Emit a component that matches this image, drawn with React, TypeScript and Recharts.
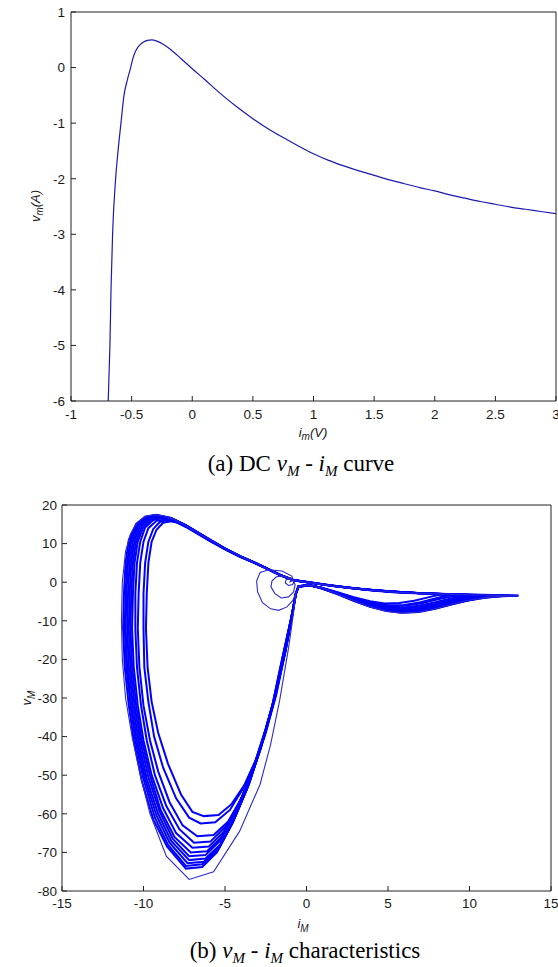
import React from 'react';
import { LineChart, Line, XAxis, YAxis, Label } from 'recharts';

// ---------- Chart (a): DC vM - iM curve ----------
const dcCurrent = [-0.693, -0.686, -0.679, -0.67, -0.657, -0.632, -0.612, -0.588, -0.563, -0.535, -0.508, -0.495, -0.478, -0.459, -0.435, -0.405, -0.37, -0.335, -0.29, -0.24, -0.184, -0.092, 0, 0.1, 0.25, 0.375, 0.5, 0.625, 0.75, 0.875, 1.0, 1.125, 1.25, 1.375, 1.5, 1.625, 1.75, 1.875, 2, 2.125, 2.25, 2.375, 2.5, 2.625, 2.75, 2.875, 3];
const dcVoltage = [-6, -5.5, -5, -4, -3, -2, -1.5, -1, -0.5, -0.22, 0, 0.12, 0.24, 0.33, 0.4, 0.455, 0.49, 0.5, 0.475, 0.42, 0.336, 0.16, -0.02, -0.21, -0.5, -0.72, -0.92, -1.1, -1.26, -1.41, -1.55, -1.67, -1.77, -1.86, -1.94, -2.02, -2.09, -2.16, -2.22, -2.29, -2.35, -2.41, -2.46, -2.51, -2.55, -2.59, -2.63];
const dcTicksX = [-1, -0.5, 0, 0.5, 1, 1.5, 2, 2.5, 3];
const dcTicksY = [-6, -5, -4, -3, -2, -1, 0, 1];

// ---------- Chart (b): vM - iM characteristics (trajectory pieces as [iM, vM]) ----------
const spiral: [number, number][] = [[-1.05,0],[-0.9,0.35],[-1.0,0.8],[-1.25,0.65],[-1.3,-0.2],[-1.1,-0.85],[-0.85,-0.6],[-0.75,0.3],[-0.95,1.1],[-1.4,1.6],[-1.85,1.4],[-2.12,0.3],[-2.18,-1.2],[-1.95,-2.9],[-1.55,-4.1],[-1.1,-3.8],[-0.8,-2.6],[-0.7,-0.7],[-0.9,1.6],[-1.5,2.9],[-2.3,3.2],[-2.85,2.5],[-3.06,0.3],[-3.0,-2.5],[-2.7,-5.3],[-2.2,-6.9],[-1.7,-7.3],[-1.2,-6.4],[-0.85,-4.8],[-0.65,-3]];
const loopA: [number, number][] = [[-0.65,-3],[-0.5,-1.2],[0.1,-0.7],[0.9,-1.5],[1.9,-3.0],[2.9,-4.8],[3.9,-6.4],[4.9,-7.5],[5.8,-8.0],[6.8,-7.8],[7.8,-7.0],[8.8,-5.9],[9.8,-4.8],[10.9,-4.0],[12,-3.6],[13,-3.5],[11.5,-3.35],[10,-3.25],[8.5,-3.1],[7,-2.9],[5.5,-2.6],[4,-2.1],[2.8,-1.6],[1.6,-1.0],[0.5,-0.3],[-0.8,0.5],[-1.6,1.8],[-2.4,3.5],[-3.2,5.1],[-4.1,6.8],[-5.0,8.7],[-5.9,10.9],[-6.7,12.9],[-7.4,14.6],[-8.1,16.2],[-8.7,17.1],[-9.3,17.5],[-9.9,17.0],[-10.4,15.4],[-10.8,12.5],[-11.1,8],[-11.3,0],[-11.35,-10],[-11.3,-20],[-11.1,-30],[-10.7,-40],[-10.2,-50],[-9.6,-60],[-8.6,-71],[-7.2,-77],[-5.7,-75],[-4.1,-64.5],[-2.85,-52.4],[-2.2,-42],[-1.65,-30.7],[-1.1,-17],[-0.8,-8],[-0.65,-3]];
const loopB: [number, number][] = [[-0.7,-3.5],[-0.5,-1.3],[0.1,-0.8],[0.9,-1.4],[1.9,-2.7],[2.9,-4.1],[3.9,-5.2],[5.0,-6.0],[6.0,-5.9],[7.0,-5.2],[7.9,-4.2],[8.5,-3.6],[9.0,-3.3],[8.0,-3.05],[6.8,-2.8],[5.5,-2.45],[4.0,-2.0],[2.8,-1.5],[1.6,-0.9],[0.5,-0.2],[-0.8,0.6],[-1.6,1.9],[-2.4,3.5],[-3.2,5.0],[-4.1,6.6],[-5.0,8.5],[-5.9,10.6],[-6.7,12.6],[-7.4,14.3],[-7.9,15.4],[-8.3,15.8],[-8.8,15.4],[-9.2,13.6],[-9.5,10.5],[-9.7,5],[-9.8,-3],[-9.85,-12],[-9.75,-22],[-9.5,-31],[-9.1,-39],[-8.5,-47],[-7.7,-55],[-7.0,-59.5],[-6.3,-60.6],[-5.4,-60.3],[-4.6,-57.5],[-3.8,-52.5],[-3.1,-46],[-2.5,-38],[-1.9,-29],[-1.3,-18],[-0.9,-9],[-0.7,-3.5]];
const loopC: [number, number][] = [[-0.7,-3.5],[-0.5,-1.2],[0.1,-0.7],[0.9,-1.45],[1.9,-2.8],[2.9,-4.4],[3.9,-5.7],[5.0,-6.5],[5.9,-6.6],[6.9,-6.1],[7.9,-5.2],[8.8,-4.3],[9.5,-3.7],[10,-3.4],[9,-3.2],[7.5,-2.95],[6,-2.65],[4.5,-2.2],[3,-1.65],[1.7,-1.0],[0.5,-0.25],[-0.8,0.55],[-1.6,1.85],[-2.4,3.45],[-3.2,5.05],[-4.1,6.7],[-5.0,8.6],[-5.9,10.7],[-6.7,12.7],[-7.4,14.4],[-8.0,15.6],[-8.5,16.1],[-9.0,15.6],[-9.4,13.8],[-9.7,10.5],[-9.9,5],[-10.0,-3],[-10.0,-12],[-9.95,-22],[-9.7,-31],[-9.35,-40],[-8.8,-48],[-8.0,-56],[-7.2,-61],[-6.5,-62.5],[-5.6,-62.2],[-4.7,-59],[-3.9,-53.5],[-3.15,-46.5],[-2.5,-38],[-1.9,-29],[-1.3,-18],[-0.9,-9],[-0.7,-3.5]];
const loopD: [number, number][] = [[-0.65,-3],[-0.5,-1.1],[0.1,-0.65],[0.9,-1.5],[1.9,-2.95],[2.9,-4.7],[3.9,-6.2],[4.9,-7.3],[5.8,-7.8],[6.8,-7.6],[7.8,-6.9],[8.8,-5.8],[9.8,-4.8],[10.9,-4.0],[12,-3.65],[13,-3.5],[11.5,-3.4],[10,-3.3],[8.5,-3.15],[7,-2.95],[5.5,-2.65],[4,-2.15],[2.8,-1.6],[1.6,-1.0],[0.5,-0.3],[-0.8,0.5],[-1.6,1.8],[-2.4,3.4],[-3.2,5.0],[-4.1,6.7],[-5.0,8.6],[-5.9,10.8],[-6.7,12.8],[-7.4,14.5],[-8.0,15.7],[-8.6,16.3],[-9.2,15.9],[-9.7,14.0],[-10.0,10.5],[-10.2,5],[-10.3,-3],[-10.35,-12],[-10.25,-22],[-10.0,-32],[-9.6,-41],[-9.1,-49],[-8.4,-57],[-7.6,-63],[-6.7,-65.8],[-5.7,-65.5],[-4.8,-62],[-4.0,-56],[-3.2,-48],[-2.5,-39],[-1.85,-29],[-1.25,-17],[-0.85,-8],[-0.65,-3]];
const loopE: [number, number][] = [[-0.65,-3],[-0.5,-1.2],[0.1,-0.75],[0.9,-1.35],[1.9,-2.6],[2.9,-3.9],[3.9,-4.9],[4.8,-5.5],[5.7,-5.4],[6.6,-4.8],[7.4,-4.0],[8.0,-3.4],[8.5,-3.1],[7.5,-2.95],[6.3,-2.7],[5,-2.35],[3.7,-1.9],[2.5,-1.4],[1.4,-0.85],[0.4,-0.2],[-0.8,0.6],[-1.6,1.9],[-2.4,3.55],[-3.2,5.15],[-4.1,6.8],[-5.0,8.7],[-5.9,10.8],[-6.7,12.9],[-7.4,14.6],[-8.1,16.0],[-8.8,16.6],[-9.4,16.1],[-9.9,14.2],[-10.2,10.5],[-10.4,5],[-10.5,-3],[-10.5,-12],[-10.4,-22],[-10.15,-32],[-9.8,-41],[-9.3,-50],[-8.6,-58],[-7.8,-64],[-6.9,-67.5],[-5.9,-67.2],[-5.0,-63.5],[-4.1,-57],[-3.3,-49],[-2.55,-39.5],[-1.9,-29.5],[-1.3,-18],[-0.85,-8],[-0.65,-3]];
const loopF: [number, number][] = [[-0.65,-3],[-0.5,-1.15],[0.1,-0.7],[0.9,-1.5],[1.9,-2.9],[2.9,-4.6],[3.9,-6.0],[4.9,-6.9],[5.6,-7.2],[6.6,-7.0],[7.6,-6.2],[8.6,-5.2],[9.5,-4.3],[10.3,-3.7],[11,-3.45],[10,-3.3],[8.5,-3.1],[7,-2.85],[5.5,-2.55],[4,-2.1],[2.8,-1.55],[1.6,-0.95],[0.5,-0.25],[-0.8,0.5],[-1.6,1.85],[-2.4,3.5],[-3.2,5.1],[-4.1,6.75],[-5.0,8.65],[-5.9,10.85],[-6.7,12.85],[-7.4,14.6],[-8.2,16.2],[-8.9,16.8],[-9.5,16.3],[-10.0,14.4],[-10.35,10.6],[-10.55,5],[-10.65,-3],[-10.7,-12],[-10.6,-22],[-10.35,-32],[-10.0,-41],[-9.5,-50],[-8.8,-58.5],[-8.0,-65],[-7.0,-68.8],[-6.0,-68.5],[-5.1,-64.8],[-4.2,-58],[-3.35,-49.5],[-2.6,-40],[-1.95,-30],[-1.35,-18.5],[-0.9,-8.5],[-0.65,-3]];
const loopG: [number, number][] = [[-0.65,-3],[-0.5,-1.25],[0.1,-0.8],[0.9,-1.4],[1.9,-2.75],[2.9,-4.2],[3.9,-5.4],[5.0,-6.2],[6.0,-6.1],[7.0,-5.5],[8.0,-4.5],[8.8,-3.8],[9.5,-3.4],[8.5,-3.15],[7.2,-2.9],[5.8,-2.55],[4.3,-2.1],[3,-1.6],[1.7,-0.95],[0.5,-0.2],[-0.8,0.55],[-1.6,1.9],[-2.4,3.5],[-3.2,5.1],[-4.1,6.75],[-5.0,8.7],[-5.9,10.9],[-6.7,12.9],[-7.4,14.7],[-8.2,16.3],[-9.0,17.0],[-9.6,16.5],[-10.1,14.6],[-10.45,10.7],[-10.65,5],[-10.75,-3],[-10.8,-12],[-10.7,-22],[-10.45,-32],[-10.1,-41],[-9.6,-50],[-8.95,-59],[-8.1,-66],[-7.1,-70],[-6.1,-69.7],[-5.2,-66],[-4.3,-59],[-3.4,-50],[-2.65,-40.5],[-2.0,-30.5],[-1.4,-19],[-0.9,-9],[-0.65,-3]];
const loopH: [number, number][] = [[-0.65,-3],[-0.5,-1.1],[0.1,-0.65],[0.9,-1.5],[1.9,-3.0],[2.9,-4.7],[3.9,-6.2],[4.9,-7.2],[5.6,-7.6],[6.6,-7.4],[7.6,-6.7],[8.6,-5.7],[9.6,-4.7],[10.6,-4.0],[11.4,-3.6],[12,-3.5],[10.8,-3.35],[9.3,-3.2],[7.8,-3.0],[6.3,-2.75],[4.8,-2.35],[3.4,-1.85],[2.1,-1.25],[0.9,-0.5],[-0.8,0.5],[-1.6,1.8],[-2.4,3.45],[-3.2,5.05],[-4.1,6.7],[-5.0,8.65],[-5.9,10.85],[-6.7,12.9],[-7.4,14.65],[-8.2,16.3],[-9.05,17.1],[-9.7,16.6],[-10.2,14.7],[-10.55,10.8],[-10.75,5],[-10.85,-3],[-10.9,-12],[-10.8,-22],[-10.55,-32],[-10.2,-41],[-9.7,-50.5],[-9.0,-59.5],[-8.2,-66.5],[-7.2,-71],[-6.2,-70.7],[-5.3,-67],[-4.4,-60],[-3.5,-51],[-2.7,-41],[-2.0,-31],[-1.4,-19],[-0.9,-9],[-0.65,-3]];
const loopI: [number, number][] = [[-0.65,-3],[-0.5,-1.15],[0.1,-0.7],[0.9,-1.55],[1.9,-3.05],[2.9,-4.85],[3.9,-6.4],[4.9,-7.45],[5.9,-7.9],[6.9,-7.7],[7.9,-6.9],[8.9,-5.8],[9.9,-4.75],[11,-3.95],[12,-3.6],[13,-3.45],[11.5,-3.3],[10,-3.2],[8.5,-3.05],[7,-2.85],[5.5,-2.55],[4,-2.05],[2.8,-1.55],[1.6,-0.95],[0.5,-0.25],[-0.8,0.5],[-1.6,1.85],[-2.4,3.5],[-3.2,5.1],[-4.1,6.8],[-5.0,8.75],[-5.9,10.95],[-6.7,12.95],[-7.4,14.7],[-8.2,16.4],[-9.1,17.2],[-9.75,16.7],[-10.3,14.8],[-10.65,10.8],[-10.85,5],[-10.95,-3],[-11.0,-12],[-10.9,-22],[-10.65,-32],[-10.3,-41],[-9.8,-51],[-9.1,-60],[-8.3,-67],[-7.2,-72],[-6.2,-71.6],[-5.3,-68],[-4.4,-61],[-3.5,-52],[-2.75,-42],[-2.05,-31.5],[-1.45,-19.5],[-0.95,-9.5],[-0.65,-3]];
const loopJ: [number, number][] = [[-0.65,-3],[-0.5,-1.2],[0.1,-0.72],[0.9,-1.45],[1.9,-2.85],[2.9,-4.5],[3.9,-5.8],[5.0,-6.7],[5.9,-6.9],[6.9,-6.5],[7.9,-5.6],[8.9,-4.6],[9.8,-3.8],[10.5,-3.45],[9.5,-3.25],[8,-3.0],[6.5,-2.75],[5,-2.35],[3.5,-1.85],[2.2,-1.2],[0.9,-0.45],[-0.8,0.55],[-1.6,1.85],[-2.4,3.5],[-3.2,5.1],[-4.1,6.8],[-5.0,8.75],[-5.9,10.95],[-6.7,13.0],[-7.4,14.75],[-8.25,16.5],[-9.15,17.3],[-9.8,16.8],[-10.35,14.9],[-10.75,10.9],[-10.95,5],[-11.05,-3],[-11.1,-12],[-11.0,-22],[-10.75,-32],[-10.4,-41],[-9.9,-51],[-9.2,-60.5],[-8.4,-67.5],[-7.3,-72.8],[-6.3,-72.4],[-5.35,-68.8],[-4.45,-61.5],[-3.55,-52.5],[-2.8,-42.5],[-2.05,-31.5],[-1.45,-19.5],[-0.95,-9.5],[-0.65,-3]];
const loopK: [number, number][] = [[-0.65,-3],[-0.5,-1.15],[0.1,-0.68],[0.9,-1.5],[1.9,-2.95],[2.9,-4.65],[3.9,-6.1],[4.9,-7.0],[5.7,-7.35],[6.7,-7.1],[7.7,-6.4],[8.7,-5.4],[9.7,-4.4],[10.6,-3.75],[11.5,-3.45],[10.3,-3.3],[8.8,-3.1],[7.3,-2.9],[5.8,-2.6],[4.3,-2.15],[3,-1.65],[1.7,-1.0],[0.5,-0.28],[-0.8,0.5],[-1.6,1.8],[-2.4,3.45],[-3.2,5.05],[-4.1,6.75],[-5.0,8.7],[-5.9,10.9],[-6.7,12.95],[-7.4,14.75],[-8.3,16.6],[-9.2,17.4],[-9.85,16.9],[-10.4,15.0],[-10.8,11],[-11.0,5],[-11.1,-3],[-11.15,-12],[-11.05,-22],[-10.8,-32],[-10.5,-41],[-10.0,-51],[-9.3,-61],[-8.5,-68],[-7.4,-73.5],[-6.4,-73.1],[-5.45,-69.5],[-4.5,-62],[-3.6,-53],[-2.8,-43],[-2.1,-32],[-1.5,-20],[-0.95,-9.5],[-0.65,-3]];
const loopL: [number, number][] = [[-0.65,-3],[-0.5,-1.1],[0.1,-0.62],[0.9,-1.55],[1.9,-3.05],[2.9,-4.8],[3.9,-6.3],[4.9,-7.35],[5.7,-7.75],[6.7,-7.55],[7.7,-6.85],[8.7,-5.85],[9.7,-4.85],[10.7,-4.05],[11.6,-3.65],[12.5,-3.5],[11.2,-3.35],[9.7,-3.2],[8.2,-3.0],[6.7,-2.8],[5.2,-2.45],[3.7,-1.95],[2.4,-1.4],[1.1,-0.65],[-0.8,0.45],[-1.6,1.75],[-2.4,3.4],[-3.2,5.0],[-4.1,6.7],[-5.0,8.7],[-5.9,10.9],[-6.7,13.0],[-7.4,14.8],[-8.35,16.7],[-9.25,17.45],[-9.9,17.0],[-10.45,15.1],[-10.9,11],[-11.1,5],[-11.2,-3],[-11.25,-12],[-11.15,-22],[-10.9,-32],[-10.6,-41],[-10.1,-51.5],[-9.4,-61.5],[-8.55,-68.5],[-7.4,-74.2],[-6.4,-73.8],[-5.5,-70],[-4.55,-62.5],[-3.65,-53.5],[-2.85,-43.5],[-2.1,-32],[-1.5,-20],[-0.95,-9.5],[-0.65,-3]];
const thinPieces = [spiral, loopA];
const densePieces = [loopB, loopC, loopD, loopE, loopF, loopG, loopH, loopI, loopJ, loopK, loopL];
const attTicksX = [-15, -10, -5, 0, 5, 10, 15];
const attTicksY = [-80, -70, -60, -50, -40, -30, -20, -10, 0, 10, 20];

const dcData = dcCurrent.map((x, i) => ({ x, y: dcVoltage[i] }));
const toPoints = (arr: [number, number][]) => arr.map(([x, y]) => ({ x, y }));

const SANS = '"Liberation Sans", Arial, sans-serif';
const SERIF = '"Liberation Serif", "Times New Roman", serif';
const tickStyle = { fontSize: 13.5, fill: '#1a1a1a', fontFamily: SANS };
const axisStroke = { stroke: '#222', strokeWidth: 1 };

const captionSub: React.CSSProperties = { fontSize: 15, position: 'relative', top: 5, fontStyle: 'italic' };

function Caption({ top, width, letter, tail }: { top: number; width: number; letter: string; tail: string }) {
  return (
    <div style={{ position: 'absolute', left: 0, top, width, textAlign: 'center', fontFamily: SERIF, fontSize: 23, lineHeight: '23px', color: '#000', whiteSpace: 'nowrap' }}>
      {letter} <i>v</i><span style={captionSub}>M</span> - <i>i</i><span style={captionSub}>M</span> {tail}
    </div>
  );
}

export default function App() {
  return (
    <div>
      <div style={{ position: 'absolute', left: 0, top: 0 }}>
        <LineChart width={558} height={450} margin={{ top: 11, right: 1, bottom: 0, left: 0 }}>
          <XAxis xAxisId="b" dataKey="x" type="number" domain={[-1, 3]} ticks={dcTicksX} allowDataOverflow
            height={49} tickSize={-5} tickMargin={13} tick={tickStyle} axisLine={axisStroke} tickLine={axisStroke} interval={0}>
            <Label content={() => (
              <text x={313} y={437} textAnchor="middle" fontFamily={SANS} fontSize={13} fontStyle="italic" fill="#1a1a1a">
                <tspan>i</tspan><tspan fontSize={10} dy={3}>m</tspan><tspan dy={-3}>(V)</tspan>
              </text>
            )} />
          </XAxis>
          <XAxis xAxisId="t" orientation="top" dataKey="x" type="number" domain={[-1, 3]} ticks={dcTicksX} allowDataOverflow
            height={1} tickSize={-5} tick={false} axisLine={axisStroke} tickLine={axisStroke} interval={0} />
          <YAxis yAxisId="l" type="number" domain={[-6, 1]} ticks={dcTicksY} allowDataOverflow
            width={71} tickSize={-5} tickMargin={11} tick={tickStyle} axisLine={axisStroke} tickLine={axisStroke} interval={0}>
            <Label content={() => (
              <text x={40} y={206} transform="rotate(-90 40 206)" textAnchor="middle" fontFamily={SANS} fontSize={13} fontStyle="italic" fill="#1a1a1a">
                <tspan>v</tspan><tspan fontSize={10} dy={3}>m</tspan><tspan dy={-3}>(A)</tspan>
              </text>
            )} />
          </YAxis>
          <YAxis yAxisId="r" orientation="right" type="number" domain={[-6, 1]} ticks={dcTicksY} allowDataOverflow
            width={1} tickSize={-5} tick={false} axisLine={axisStroke} tickLine={axisStroke} interval={0} />
          <Line xAxisId="b" yAxisId="l" data={dcData} dataKey="y" type="monotone" stroke="#1a1ab0" strokeWidth={1.2} dot={false} isAnimationActive={false} />
        </LineChart>
      </div>
      <Caption top={452} width={602} letter="(a) DC" tail="curve" />

      <div style={{ position: 'absolute', left: 0, top: 470 }}>
        <LineChart width={558} height={470} margin={{ top: 34, right: 6, bottom: 0, left: 0 }}>
          <XAxis xAxisId="b" dataKey="x" type="number" domain={[-15, 15]} ticks={attTicksX} allowDataOverflow
            height={49} tickSize={-5} tickMargin={12} tick={tickStyle} axisLine={axisStroke} tickLine={axisStroke} interval={0}>
            <Label content={() => (
              <text x={303} y={458} textAnchor="middle" fontFamily={SANS} fontSize={13} fontStyle="italic" fill="#1a1a1a">
                <tspan>i</tspan><tspan fontSize={10} dy={4}>M</tspan>
              </text>
            )} />
          </XAxis>
          <XAxis xAxisId="t" orientation="top" dataKey="x" type="number" domain={[-15, 15]} ticks={attTicksX} allowDataOverflow
            height={1} tickSize={-5} tick={false} axisLine={axisStroke} tickLine={axisStroke} interval={0} />
          <YAxis yAxisId="l" type="number" domain={[-80, 20]} ticks={attTicksY} allowDataOverflow
            width={62} tickSize={-5} tickMargin={10} tick={tickStyle} axisLine={axisStroke} tickLine={axisStroke} interval={0}>
            <Label content={() => (
              <text x={31} y={228} transform="rotate(-90 31 228)" textAnchor="middle" fontFamily={SANS} fontSize={13} fontStyle="italic" fill="#1a1a1a">
                <tspan>v</tspan><tspan fontSize={10} dy={4}>M</tspan>
              </text>
            )} />
          </YAxis>
          <YAxis yAxisId="r" orientation="right" type="number" domain={[-80, 20]} ticks={attTicksY} allowDataOverflow
            width={1} tickSize={-5} tick={false} axisLine={axisStroke} tickLine={axisStroke} interval={0} />
          {densePieces.map((piece, i) => (
            <Line key={'d' + i} xAxisId="b" yAxisId="l" data={toPoints(piece)} dataKey="y" type="linear" stroke="#0000ff" strokeWidth={2} dot={false} isAnimationActive={false} />
          ))}
          {thinPieces.map((piece, i) => (
            <Line key={'t' + i} xAxisId="b" yAxisId="l" data={toPoints(piece)} dataKey="y" type="linear" stroke="#2a2ad0" strokeWidth={1.1} dot={false} isAnimationActive={false} />
          ))}
        </LineChart>
      </div>
      <Caption top={939} width={610} letter="(b)" tail="characteristics" />
    </div>
  );
}
